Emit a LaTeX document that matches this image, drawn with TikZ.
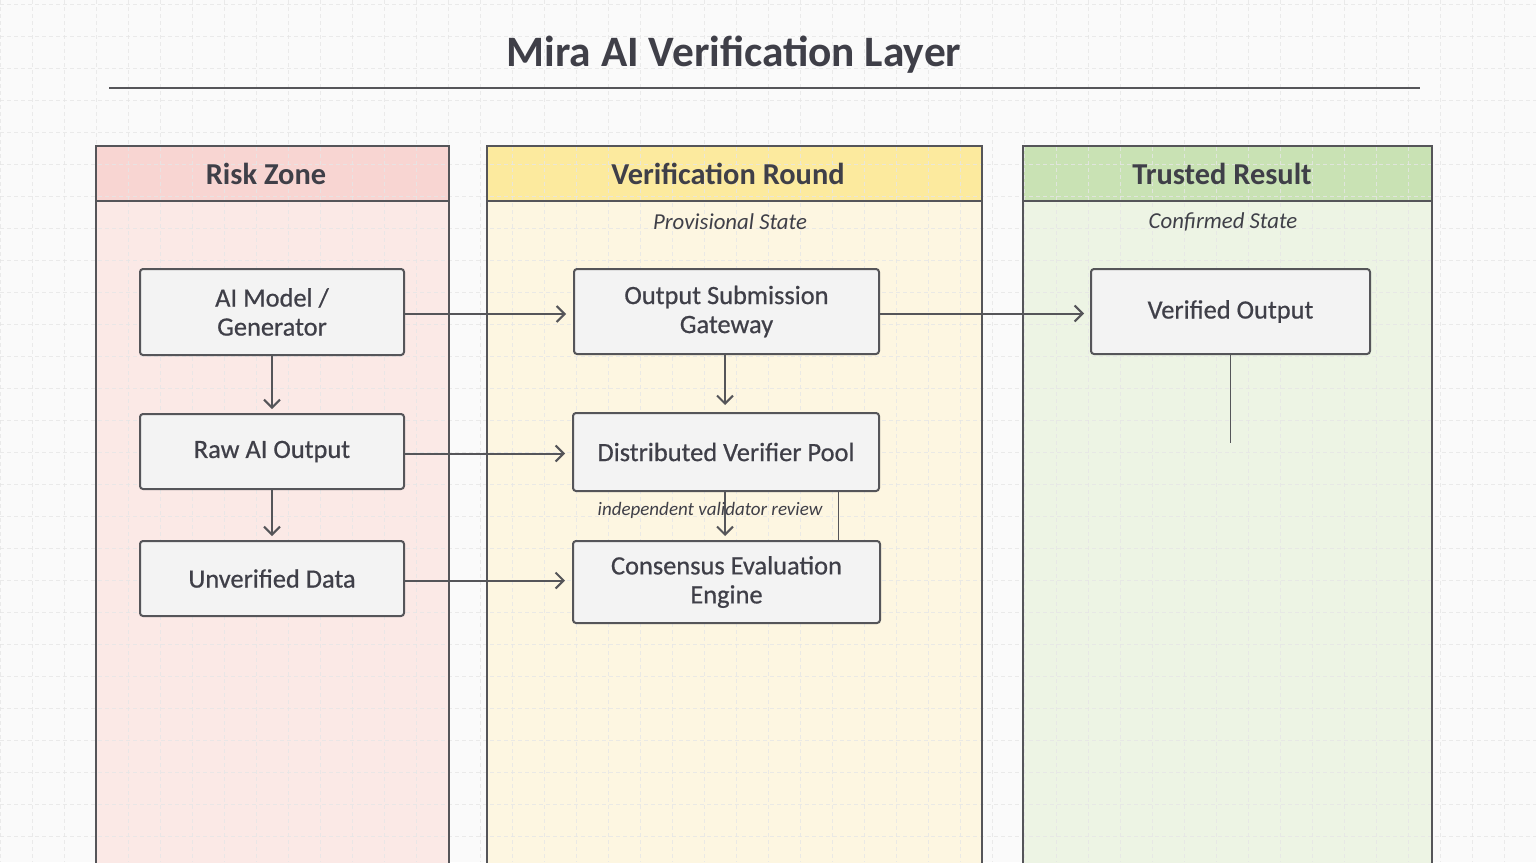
\documentclass[tikz,border=0pt]{standalone}
\usepackage{fontspec}
\setmainfont{Carlito}
\usetikzlibrary{arrows.meta,calc}
\definecolor{bgc}{HTML}{FAFAFA}
\definecolor{gridc}{HTML}{E6E6E6}
\definecolor{txt}{HTML}{3F3F48}
\definecolor{ln}{HTML}{555559}
\definecolor{redh}{HTML}{F8D5D2}
\definecolor{redb}{HTML}{FBE9E6}
\definecolor{yelh}{HTML}{FCEA9E}
\definecolor{yelb}{HTML}{FDF6E1}
\definecolor{grnh}{HTML}{C9E2B4}
\definecolor{grnb}{HTML}{EDF4E4}
\definecolor{boxf}{HTML}{F3F3F3}
\begin{document}
\begin{tikzpicture}[x=0.5pt,y=-0.5pt,
  panel/.style={draw=ln,line width=0.8pt},
  hdr/.style={font=\bfseries\fontsize{15.2}{17}\selectfont,text=txt},
  sub/.style={font=\itshape\fontsize{11.4}{13}\selectfont,text=txt},
  box/.style={draw=ln,line width=1pt,fill=boxf,rounded corners=1.5pt,inner sep=0pt,align=center,
    font=\fontsize{13.2}{14.5}\selectfont\addfontfeature{FakeBold=0.6},text=txt},
  arr/.style={draw=ln,line width=1pt,-{Straight Barb[length=4pt,width=8pt,line width=1pt]}},
  plain/.style={draw=ln,line width=0.6pt}]
\useasboundingbox (0,0) rectangle (1536,862);
\fill[bgc] (0,0) rectangle (1536,862);
\begin{scope}
\clip (0,0) rectangle (1536,862);
% panels
\fill[redb] (96,146) rectangle (449,880);
\fill[redh] (96,146) rectangle (449,201);
\fill[yelb] (487,146) rectangle (982,880);
\fill[yelh] (487,146) rectangle (982,201);
\fill[grnb] (1023,146) rectangle (1432,880);
\fill[grnh] (1023,146) rectangle (1432,201);
% grid
\foreach \gx in {0,32,...,1536} \draw[gridc,line width=0.3pt,dash pattern=on 2pt off 1.5pt,opacity=0.8] (\gx,0) -- (\gx,862);
\foreach \gy in {4,36,...,862} \draw[gridc,line width=0.3pt,dash pattern=on 2pt off 1.5pt,opacity=0.8] (0,\gy) -- (1536,\gy);
\draw[panel] (96,880) -- (96,146) -- (449,146) -- (449,880);
\draw[panel] (96,201) -- (449,201);
\draw[panel] (487,880) -- (487,146) -- (982,146) -- (982,880);
\draw[panel] (487,201) -- (982,201);
\draw[panel] (1023,880) -- (1023,146) -- (1432,146) -- (1432,880);
\draw[panel] (1023,201) -- (1432,201);
\end{scope}
% title
\node[font=\bfseries\fontsize{21.7}{24}\selectfont,text=txt] (title) at (734,55) {Mira AI Verification Layer};
\coordinate (tl) at (109,88);
\coordinate (tr) at (1420,88);
\draw[ln,line width=0.8pt] (tl) -- (tr);
% headers
\node[hdr] (h1) at (266,174) {Risk Zone};
\node[hdr] (h2) at (728,174) {Verification Round};
\node[hdr] (h3) at (1222,174) {Trusted Result};
\node[sub] (s2) at (730,222) {Provisional State};
\node[sub] (s3) at (1223,222) {Confirmed State};
% boxes
\node[box,minimum width=132pt,minimum height=43pt] (aim) at (272,312) {AI Model /\\Generator};
\node[box,minimum width=132pt,minimum height=37.5pt] (raw) at (272,451.5) {Raw AI Output};
\node[box,minimum width=132pt,minimum height=37.5pt] (unv) at (272,578.5) {Unverified Data};
\node[box,minimum width=152.5pt,minimum height=42.5pt] (gw) at (726.5,311.5) {Output Submission\\Gateway};
\node[box,minimum width=153pt,minimum height=39pt] (dvp) at (726,452) {Distributed Verifier Pool};
\node[box,minimum width=153.5pt,minimum height=41pt] (cee) at (726.5,582) {Consensus Evaluation\\Engine};
\node[box,minimum width=139.5pt,minimum height=42.5pt] (vo) at (1230.5,311.5) {Verified Output};
% horizontal arrows
\draw[arr,shorten >=3.5pt] ([yshift=-1pt]aim.east) -- ([yshift=-1pt]aim.east -| gw.west);
\draw[arr,shorten >=3.5pt] ([yshift=-1pt]raw.east) -- ([yshift=-1pt]raw.east -| dvp.west);
\draw[arr,shorten >=3.5pt] ([yshift=-1pt]unv.east) -- ([yshift=-1pt]unv.east -| cee.west);
\draw[arr,shorten >=3pt] ([yshift=-1pt]gw.east) -- ([yshift=-1pt]gw.east -| vo.west);
% vertical arrows
\draw[arr,shorten >=2pt] (aim.south) -- (raw.north);
\draw[arr,shorten >=2pt] (raw.south) -- (unv.north);
\draw[arr,shorten >=3.5pt] ([xshift=-0.75pt]gw.south) -- ([xshift=-0.75pt]gw.south |- dvp.north);
\draw[arr,shorten >=2pt] ([xshift=-0.5pt]dvp.south) -- ([xshift=-0.5pt]dvp.south |- cee.north);
\node[font=\itshape\fontsize{9.5}{11}\selectfont,text=txt] (ivr) at (710,510) {independent validator review};
\coordinate (dvpr) at ($(dvp.south west)!0.866!(dvp.south east)$);
\draw[plain] (dvpr) -- (dvpr |- cee.north);
\coordinate (vend) at (1230.5,443);
\draw[plain,line width=0.7pt] (vo.south) -- (vend);
\end{tikzpicture}
\end{document}
